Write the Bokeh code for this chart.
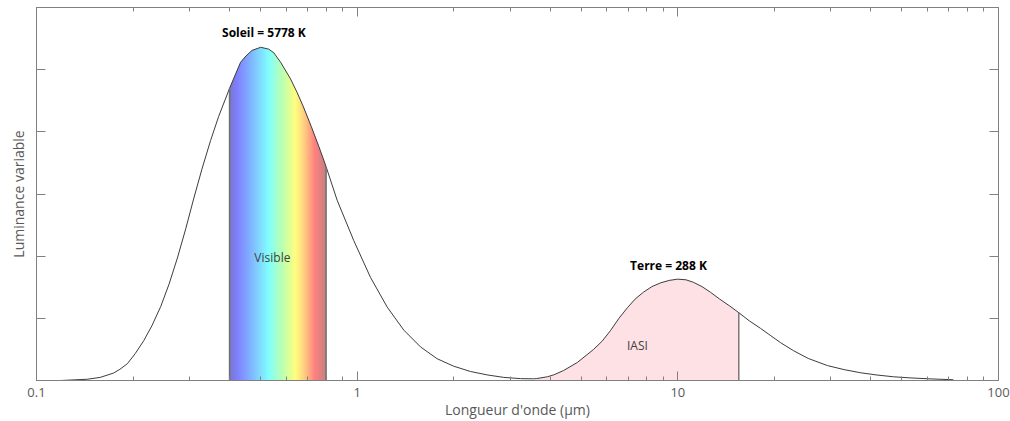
import numpy as np
from bokeh.plotting import figure
from bokeh.models import (LogAxis, LinearAxis, FixedTicker, Range1d, Label,
                          CustomJSTickFormatter, PrintfTickFormatter)
from bokeh.embed import file_html
from bokeh.resources import INLINE

# ---------------- data ----------------
wavelength_um = [0.10, 0.119, 0.144, 0.158, 0.174, 0.182, 0.192, 0.203, 0.216, 0.229,
                 0.244, 0.259, 0.275, 0.292, 0.309, 0.328, 0.349, 0.37, 0.40, 0.433,
                 0.45, 0.47, 0.50, 0.53, 0.55, 0.577, 0.62, 0.65, 0.68, 0.72,
                 0.76, 0.80, 0.866, 0.976, 1.10, 1.241, 1.398, 1.576, 1.776, 2.00,
                 2.256, 2.543, 2.866, 3.23, 3.55, 3.62, 3.92, 4.10, 4.40, 4.86,
                 5.46, 5.80, 6.16, 6.55, 6.96, 7.36, 7.81, 8.30, 8.83, 9.40,
                 9.97, 10.6, 11.18, 11.9, 12.64, 13.5, 14.5, 15.5, 16.7, 18.09,
                 19.5, 20.89, 22.94, 25.5, 29.28, 33.0, 37.1, 41.5, 47.0, 53.0,
                 60.0, 72.3]
luminance = [0.00, 0.00, 0.02, 0.05, 0.12, 0.18, 0.27, 0.43, 0.64, 0.88,
             1.19, 1.55, 1.97, 2.44, 2.92, 3.40, 3.86, 4.25, 4.70, 5.12,
             5.22, 5.31, 5.36, 5.33, 5.27, 5.12, 4.85, 4.63, 4.40, 4.08,
             3.76, 3.44, 2.90, 2.25, 1.66, 1.18, 0.81, 0.54, 0.35, 0.23,
             0.145, 0.09, 0.05, 0.03, 0.027, 0.03, 0.06, 0.09, 0.16, 0.29,
             0.50, 0.63, 0.80, 1.00, 1.17, 1.31, 1.42, 1.51, 1.57, 1.61,
             1.63, 1.62, 1.58, 1.51, 1.42, 1.31, 1.20, 1.09, 0.96, 0.84,
             0.72, 0.61, 0.48, 0.355, 0.24, 0.175, 0.125, 0.09, 0.06, 0.042,
             0.028, 0.012]

visible_band = [0.40, 0.80]
iasi_band = [3.62, 15.5]

x_major_ticks = [0.1, 1, 10, 100]
x_tick_labels = ["0.1", "1", "10", "100"]
y_ticks = [1, 2, 3, 4, 5]

sun_label = "Soleil = 5778 K"
earth_label = "Terre = 288 K"
visible_label = "Visible"
iasi_label = "IASI"
x_title = "Longueur d'onde (μm)"
y_title = "Luminance variable"

# ---------------- figure ----------------
FONT = "Open Sans"
GRAY = "#808080"
TXT = "#595959"

p = figure(width=1010, height=421, x_axis_type="log",
           x_range=Range1d(0.1, 100), y_range=Range1d(0, 6),
           output_backend="svg", toolbar_location=None,
           min_border_left=36, min_border_right=12, min_border_top=7,
           min_border_bottom=41)
p.grid.visible = False
p.outline_line_color = GRAY
p.background_fill_color = "white"
p.border_fill_color = "white"

minor = []
for dec in x_major_ticks[:-1]:
    minor += [dec * k for k in range(2, 10)]

xt = FixedTicker(ticks=x_major_ticks, minor_ticks=minor)
yt = FixedTicker(ticks=y_ticks, minor_ticks=[])
blank = CustomJSTickFormatter(code="return ''")

def style_axis(ax, show_labels=False):
    ax.axis_line_color = GRAY
    ax.major_tick_line_color = GRAY
    ax.minor_tick_line_color = GRAY
    ax.major_tick_in = 9
    ax.major_tick_out = 0
    ax.minor_tick_in = 4
    ax.minor_tick_out = 0
    ax.major_label_text_font = FONT
    ax.major_label_text_color = TXT
    ax.axis_label_text_font = FONT
    ax.axis_label_text_color = TXT
    ax.axis_label_text_font_style = "normal"
    if not show_labels:
        ax.formatter = blank
        ax.major_label_standoff = 0

# bottom x axis
xa = p.xaxis[0]
xa.ticker = xt
xa.formatter = PrintfTickFormatter(format="%g")
style_axis(xa, show_labels=True)
xa.major_label_text_font_size = "13px"
xa.major_label_standoff = 7
xa.axis_label = x_title
xa.axis_label_text_font_size = "14px"
xa.axis_label_standoff = 0

# left y axis
ya = p.yaxis[0]
ya.ticker = yt
style_axis(ya)
ya.axis_label = y_title
ya.axis_label_text_font_size = "14px"
ya.axis_label_standoff = 9

# mirrored axes
top = LogAxis(ticker=xt)
style_axis(top)
p.add_layout(top, "above")
right = LinearAxis(ticker=yt)
style_axis(right)
p.add_layout(right, "right")

# ---------------- rainbow for the visible band ----------------
stops_f = [0.00, 0.08, 0.24, 0.40, 0.55, 0.68, 0.78, 0.88, 1.00]
stops_rgb = [(120, 120, 205), (128, 128, 255), (128, 190, 255), (128, 255, 255),
             (190, 255, 175), (255, 255, 128), (255, 200, 128), (255, 128, 128),
             (196, 128, 128)]
n = 240
f = np.linspace(0, 1, n)
img = np.empty((1, n), dtype=np.uint32)
view = img.view(dtype=np.uint8).reshape((1, n, 4))
for c in range(3):
    view[0, :, c] = np.interp(f, stops_f, [s[c] for s in stops_rgb]).astype(np.uint8)
view[0, :, 3] = 255
p.image_rgba(image=[img], x=visible_band[0], y=0,
             dw=visible_band[1] - visible_band[0], dh=6)

wl = np.array(wavelength_um)
lum = np.array(luminance)
# white mask above the curve (a bit wider than the band) to shape the rainbow
i0 = int(np.searchsorted(wl, visible_band[0])) - 1
i1 = int(np.searchsorted(wl, visible_band[1])) + 2
p.varea(x=wl[i0:i1], y1=lum[i0:i1], y2=6, fill_color="white")

# IASI band
ias = (wl >= iasi_band[0]) & (wl <= iasi_band[1])
p.varea(x=wl[ias], y1=0, y2=lum[ias], fill_color="#fde1e4")

# curve
p.line(wl, lum, line_color="#3c3c3c", line_width=1)

# band edges
vis_h = [float(lum[wl == b][0]) for b in visible_band]
p.segment(x0=visible_band, y0=[0, 0], x1=visible_band, y1=vis_h,
          line_color="#707070", line_width=1.5)
ias_h = float(lum[wl == iasi_band[1]][0])
p.segment(x0=[iasi_band[1]], y0=[0], x1=[iasi_band[1]], y1=[ias_h],
          line_color="#3c3c3c", line_width=1)

# labels
ipk_s = int(np.argmax(np.where(wl < 2, lum, 0)))
ipk_e = int(np.argmax(np.where(wl > 2, lum, 0)))
p.add_layout(Label(x=float(wl[ipk_s]) * 1.024, y=float(lum[ipk_s]), y_offset=15,
                   text=sun_label, text_font=FONT, text_font_style="bold",
                   text_font_size="12px", text_color="black",
                   text_align="center", text_baseline="middle"))
p.add_layout(Label(x=float(wl[ipk_e]) * 0.938, y=float(lum[ipk_e]), y_offset=14,
                   text=earth_label, text_font=FONT, text_font_style="bold",
                   text_font_size="12px", text_color="black",
                   text_align="center", text_baseline="middle"))
p.add_layout(Label(x=0.544, y=1.98, text=visible_label, text_font=FONT,
                   text_font_size="12px", text_color="#404040",
                   text_align="center", text_baseline="middle"))
p.add_layout(Label(x=7.48, y=0.56, text=iasi_label, text_font=FONT,
                   text_font_size="12px", text_color="#404040",
                   text_align="center", text_baseline="middle"))

open("out.html", "w").write(file_html(p, INLINE))
